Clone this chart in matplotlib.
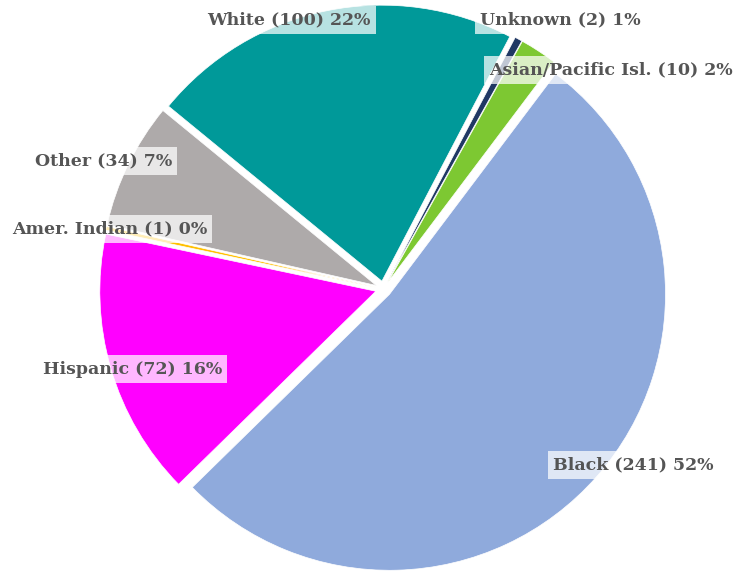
import matplotlib.pyplot as plt

# slices, clockwise starting at the Black slice
groups = ['Black', 'Hispanic', 'Amer. Indian', 'Other', 'White', 'Unknown', 'Asian/Pacific Isl.']
counts = [241, 72, 1, 34, 100, 2, 10]
percents = ['52%', '16%', '0%', '7%', '22%', '1%', '2%']
colors = ['#8FAADC', '#FF00FF', '#FFC000', '#AEAAAA', '#009999', '#203864', '#7DC832']

# label anchor (left edge, middle) in pixel coords of the 735x573 image
label_px = [(553, 465), (43, 369), (12, 229), (35, 161), (207, 20), (480, 20), (489, 70)]

W, H = 735, 573
cx, cy = 383.5, 289   # pie centre in pixels
radius = 276

fig = plt.figure(figsize=(W / 100, H / 100), dpi=100)
ax = fig.add_axes([0, 0, 1, 1])

# explode offset is in data units (pixels here)
ax.pie(counts, colors=colors, startangle=53, counterclock=False,
       radius=radius, explode=[8] * len(counts),
       wedgeprops=dict(edgecolor='white', linewidth=0.5))

ax.set_xlim(-cx, W - cx)
ax.set_ylim(cy - H, cy)
ax.set_aspect('equal')
ax.axis('off')

for g, n, p, (px, py) in zip(groups, counts, percents, label_px):
    ax.text(px - cx, cy - py, f'{g} ({n}) {p}', ha='left', va='center',
            fontsize=12.5, fontweight='bold', family='DejaVu Serif', color='#555555',
            bbox=dict(boxstyle='square,pad=0.3', fc='white', ec='none', alpha=0.72))

fig.savefig('out.png', dpi=100)
